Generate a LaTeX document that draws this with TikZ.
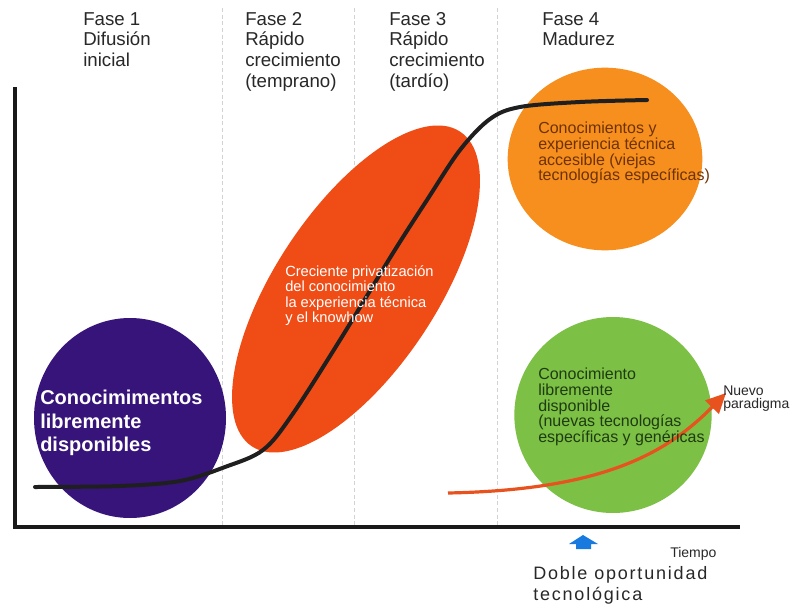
\documentclass[tikz,border=0pt]{standalone}
\usepackage{fontspec}
\setmainfont{Liberation Sans}
\newfontfamily\widefont[LetterSpace=10]{Liberation Sans}
\usetikzlibrary{shapes.geometric,arrows.meta}
\definecolor{purplec}{RGB}{55,20,122}
\definecolor{redc}{RGB}{240,76,22}
\definecolor{orangec}{RGB}{246,143,30}
\definecolor{greenc}{RGB}{125,192,70}
\definecolor{arrowc}{RGB}{232,82,30}
\definecolor{bluec}{RGB}{24,122,222}
\definecolor{labelc}{RGB}{40,40,40}
\definecolor{browntext}{RGB}{110,50,5}
\definecolor{greentext}{RGB}{30,60,15}
\tikzset{
  blob/.style={ellipse, inner sep=0pt, draw=none},
  sep/.style={draw=gray!35, line width=0.6pt, dash pattern=on 3pt off 2pt},
  phase/.style={anchor=north west, inner sep=0pt, align=left, text=labelc,
    font=\fontsize{14}{15.5}\selectfont},
  small/.style={anchor=north west, inner sep=0pt, align=left,
    font=\fontsize{11}{11.6}\selectfont},
  mid/.style={anchor=north west, inner sep=0pt, align=left,
    font=\fontsize{12}{11.7}\selectfont},
  axis/.style={line width=3.2pt, draw=black!90},
  scurve/.style={line width=3pt, draw=black!88, line cap=round, line join=round},
}
\begin{document}
\begin{tikzpicture}[x=0.75pt,y=-0.75pt]
\useasboundingbox (0,0) rectangle (797,607);
\fill[white] (0,0) rectangle (797,607);

% phase separators
\coordinate (s1t) at (222,8);  \coordinate (s1b) at (222,527);
\coordinate (s2t) at (354,8);  \coordinate (s2b) at (354,527);
\coordinate (s3t) at (497,8);  \coordinate (s3b) at (497,527);
\draw[sep] (s1t) -- (s1b);
\draw[sep] (s2t) -- (s2b);
\draw[sep] (s3t) -- (s3b);

% blobs
\node[blob, fill=purplec, minimum width=144pt, minimum height=150pt] (purple) at (130,418) {};
\node[blob, fill=redc, rotate=56.5, minimum width=283pt, minimum height=121pt] (red) at (356,289) {};
\node[blob, fill=orangec, minimum width=146pt, minimum height=137pt] (orange) at (605,159) {};
\node[blob, fill=greenc, minimum width=148pt, minimum height=147pt] (green) at (613,415) {};

% S-curve
\draw[scurve] plot[smooth, tension=0.55] coordinates {(35,487) (120,486) (180,481) (225,467) (263,450) (292,415) (340,340) (393,253) (427,200) (460,150) (490,119) (520,107) (580,102) (647,100)};

% new paradigm arrow
\coordinate (ra1) at (448,493);
\coordinate (ra2) at (726,393);
\draw[arrowc, line width=2.4pt, -{Triangle[length=15pt,width=14pt]}] (ra1) .. controls (600,490) and (665,455) .. (ra2);

% axes
\coordinate (origin) at (15,527);
\coordinate (ytop) at (15,87);
\coordinate (xend) at (740,527);
\draw[axis] (ytop) -- (origin) -- (xend);

% blue arrow
\fill[bluec] (583,535) -- (598,544) -- (591,544) -- (591,549) -- (576,549) -- (576,544) -- (569,544) -- cycle;

% phase labels
\node[phase] (f1) at (83,12) {Fase 1\\Difusión\\inicial};
\node[phase] (f2) at (245,12) {Fase 2\\Rápido\\crecimiento\\(temprano)};
\node[phase] (f3) at (389,12) {Fase 3\\Rápido\\crecimiento\\(tardío)};
\node[phase] (f4) at (542,12) {Fase 4\\Madurez};

% blob texts
\node[anchor=north west, inner sep=0pt, align=left, text=white,
  font=\fontsize{15}{17.6}\selectfont\bfseries] (tpurple) at (40,390)
  {Conocimimentos\\libremente\\disponibles};
\node[small, text=white] (tred) at (285,265)
  {Creciente privatización\\del conocimiento\\la experiencia técnica\\y el knowhow};
\node[mid, text=browntext] (torange) at (538,122)
  {Conocimientos y\\experiencia técnica\\accesible (viejas\\tecnologías específicas)};
\node[mid, text=greentext] (tgreen) at (538,368)
  {Conocimiento\\libremente\\disponible\\(nuevas tecnologías\\específicas y genéricas};
\node[anchor=north west, inner sep=0pt, align=left, text=labelc,
  font=\fontsize{10.5}{9.5}\selectfont] (tnuevo) at (723,386) {Nuevo\\paradigma};
\node[anchor=north west, inner sep=0pt, text=labelc,
  font=\fontsize{10.5}{12}\selectfont] (ttiempo) at (670,547) {Tiempo};
\node[anchor=north west, inner sep=0pt, align=left, text=labelc,
  font=\widefont\fontsize{13.5}{16}\selectfont] (tdoble) at (533,566)
  {Doble oportunidad\\tecnológica};
\end{tikzpicture}
\end{document}
